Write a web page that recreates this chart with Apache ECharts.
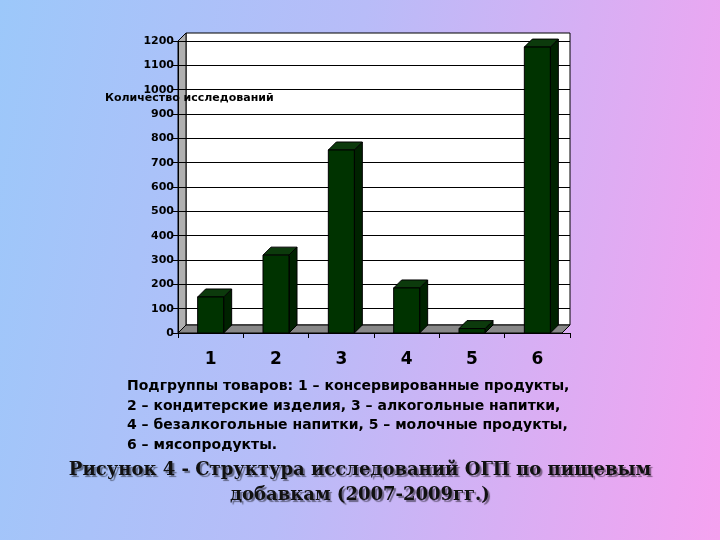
<!DOCTYPE html>
<html><head><meta charset="utf-8">
<script src="https://cdn.jsdelivr.net/npm/echarts@6/dist/echarts.min.js"></script>
<style>
html,body{margin:0;padding:0;}
body{width:720px;height:540px;background:linear-gradient(100deg,#9cc8fa 0%,#b8bcf8 45%,#f6a2f0 100%);}
#c{position:absolute;left:0;top:0;width:720px;height:540px;}
</style></head><body>
<div id="c"></div>
<script>
const categories = ['1','2','3','4','5','6'];
const values = [148, 320, 752, 185, 18, 1175];
const yTicks = [0,100,200,300,400,500,600,700,800,900,1000,1100,1200];
const captionLines = [
 'Подгруппы товаров: 1 – консервированные продукты,',
 '2 – кондитерские изделия, 3 – алкогольные напитки,',
 '4 – безалкогольные напитки, 5 – молочные продукты,',
 '6 – мясопродукты.'
];
const titleLines = ['Рисунок 4 - Структура исследований ОГП по пищевым','добавкам (2007-2009гг.)'];

const chart = echarts.init(document.getElementById('c'));
const D = 8, BW = 26;
const titleStyle = {font:'bold 18px "DejaVu Serif"',fill:'#111',textShadowColor:'rgba(0,0,0,0.45)',textShadowOffsetX:2,textShadowOffsetY:2,textShadowBlur:1};
chart.setOption({
  animation:false,
  grid:{left:178,right:150,top:41,bottom:207},
  xAxis:{type:'category',data:categories,
    axisLine:{lineStyle:{color:'#000'}},axisTick:{show:true,lineStyle:{color:'#000'}},
    axisLabel:{fontSize:17,fontWeight:'bold',color:'#000',margin:18,fontFamily:'DejaVu Sans'}},
  yAxis:{type:'value',min:0,max:1200,interval:100,
    axisLine:{show:true,lineStyle:{color:'#000'}},axisTick:{show:true,lineStyle:{color:'#000'}},
    splitLine:{lineStyle:{color:'#000',width:1}},
    axisLabel:{fontSize:11,fontWeight:'bold',color:'#000',fontFamily:'DejaVu Sans',margin:4,formatter:v=>String(v)}},
  graphic:[
    {type:'rect',z:-1,shape:{x:178+D,y:41-D,width:392-D,height:292},style:{fill:'#fff',stroke:'#000'}},
    {type:'polygon',z:-1,shape:{points:[[178,41],[178+D,41-D],[178+D,333-D],[178,333]]},style:{fill:'#b0b0b0',stroke:'#000'}},
    {type:'polygon',z:-1,shape:{points:[[178,333],[178+D,333-D],[570,333-D],[570-D,333]]},style:{fill:'#888',stroke:'#000'}},
    {type:'text',left:105,top:93,style:{text:'Количество исследований',font:'bold 11px DejaVu Sans',fill:'#000'}},
    {type:'text',left:127,top:377,style:{text:captionLines.join('\n'),font:'bold 14px DejaVu Sans',fill:'#000',lineHeight:19.5}},
    {type:'text',left:'center',top:461,style:Object.assign({text:titleLines[0]},titleStyle)},
    {type:'text',left:'center',top:486,style:Object.assign({text:titleLines[1]},titleStyle)}
  ],
  series:[{type:'custom',data:values.map((v,i)=>[i,v]),
    renderItem:function(params,api){
      const top=api.coord([api.value(0),api.value(1)]);
      const base=api.coord([api.value(0),0]);
      const x=top[0]-BW/2, y=top[1], h=base[1]-top[1];
      return {type:'group',children:[
        {type:'polygon',shape:{points:[[x+BW,y],[x+BW+D,y-D],[x+BW+D,base[1]-D],[x+BW,base[1]]]},style:{fill:'#002200',stroke:'#000'}},
        {type:'polygon',shape:{points:[[x,y],[x+D,y-D],[x+BW+D,y-D],[x+BW,y]]},style:{fill:'#0c3a0c',stroke:'#000'}},
        {type:'rect',shape:{x:x,y:y,width:BW,height:h},style:{fill:'#003300',stroke:'#000'}}
      ]};
    }}]
});
</script></body></html>
